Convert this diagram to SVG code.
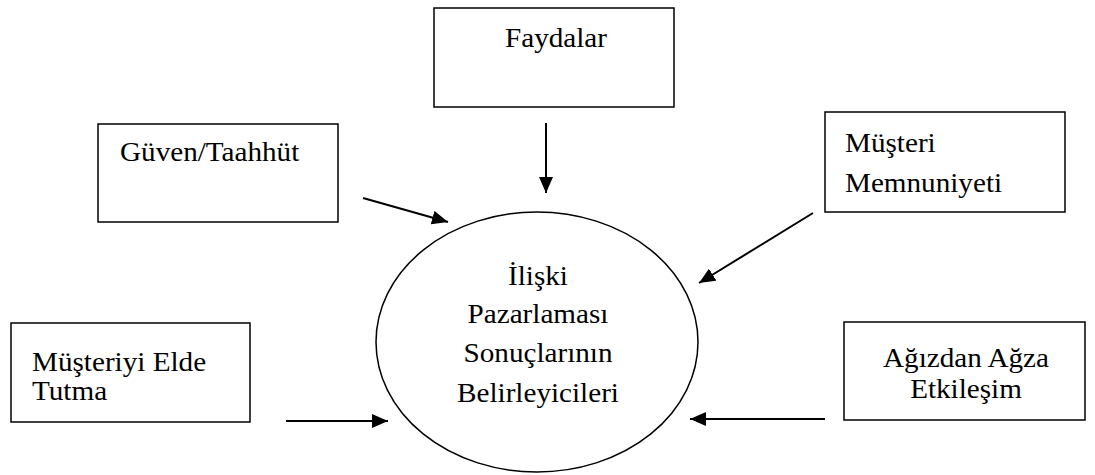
<svg xmlns="http://www.w3.org/2000/svg" width="1095" height="475" viewBox="0 0 1095 475">
<style>
.box{fill:#fff;stroke:#000;stroke-width:1.5}
.t{font-family:"Liberation Serif","Times New Roman",serif;font-size:27px;fill:#000}
.c{text-anchor:middle}
.arr{stroke:#000;stroke-width:2;fill:none;marker-end:url(#ah)}
</style>
<defs>
<marker id="ah" markerUnits="userSpaceOnUse" markerWidth="18" markerHeight="14" refX="16" refY="7" orient="auto">
<path d="M0,0 L16,7 L0,14 Z" fill="#000"/>
</marker>
</defs>
<rect width="1095" height="475" fill="#fff"/>
<g id="faydalar">
<rect class="box" x="434" y="8" width="240" height="99"/>
<text class="t c" transform="matrix(1.08,0,0,1,556,47)">Faydalar</text>
</g>
<g id="guven">
<rect class="box" x="98" y="124" width="240" height="98"/>
<text class="t" transform="matrix(1.08,0,0,1,120,161)">Güven/Taahhüt</text>
</g>
<g id="memnuniyet">
<rect class="box" x="825" y="112" width="240" height="100"/>
<text class="t" transform="matrix(1.08,0,0,1,845,152)">Müşteri</text>
<text class="t" transform="matrix(1.08,0,0,1,845,192)">Memnuniyeti</text>
</g>
<g id="elde-tutma">
<rect class="box" x="11" y="323" width="239" height="99"/>
<text class="t" transform="matrix(1.08,0,0,1,32,371)">Müşteriyi Elde</text>
<text class="t" transform="matrix(1.08,0,0,1,32,400)">Tutma</text>
</g>
<g id="agizdan">
<rect class="box" x="844" y="322" width="241" height="98"/>
<text class="t c" transform="matrix(1.08,0,0,1,966,367)">Ağızdan Ağza</text>
<text class="t c" transform="matrix(1.08,0,0,1,966,398)">Etkileşim</text>
</g>
<g id="merkez">
<ellipse cx="537" cy="342" rx="161" ry="130" fill="#fff" stroke="#000" stroke-width="1.5"/>
<text class="t c" transform="matrix(1.08,0,0,1,538,285)">İlişki</text>
<text class="t c" transform="matrix(1.08,0,0,1,538,323)">Pazarlaması</text>
<text class="t c" transform="matrix(1.08,0,0,1,538,362)">Sonuçlarının</text>
<text class="t c" transform="matrix(1.08,0,0,1,538,402)">Belirleyicileri</text>
</g>
<g id="connectors">
<line class="arr" x1="546" y1="123" x2="546" y2="193"/>
<line class="arr" x1="363" y1="198" x2="448" y2="222"/>
<line class="arr" x1="813" y1="213" x2="699" y2="283"/>
<line class="arr" x1="286" y1="421" x2="388" y2="421"/>
<line class="arr" x1="825" y1="419" x2="690" y2="419"/>
</g>
</svg>
